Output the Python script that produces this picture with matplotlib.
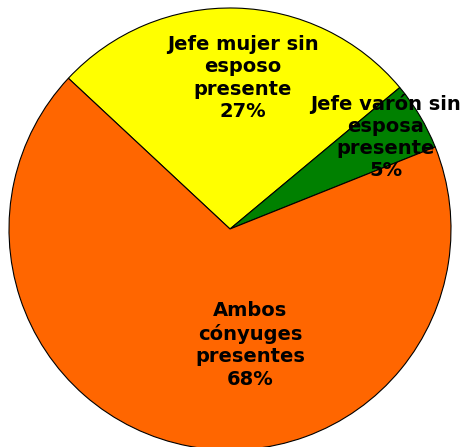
import matplotlib
matplotlib.use("Agg")
from matplotlib import pyplot as plt

# data
labels = ["Jefe mujer sin\nesposo\npresente", "Jefe varón sin\nesposa\npresente", "Ambos\ncónyuges\npresentes"]
shares = [27, 5, 68]
colors = ["#FFFF00", "#008000", "#FF6600"]

fig = plt.figure(figsize=(4.77, 4.47), dpi=100)
ax = fig.add_axes([0, 0, 1, 1])

# pie in pixel-like coords
cx, cy, r = 230, 447 - 229, 221
ax.pie(shares, colors=colors, startangle=137, counterclock=False,
       center=(cx, cy), radius=r, frame=True,
       wedgeprops=dict(edgecolor="black", linewidth=0.8))

# label positions (pixels, top-left origin)
label_pos = [(243, 78), (386, 137), (250, 345)]
for lab, s, (x, y) in zip(labels, shares, label_pos):
    ax.text(x, 447 - y, f"{lab}\n{s}%", ha="center", va="center",
            fontsize=14, fontweight="bold", family="DejaVu Sans",
            linespacing=1.22)

ax.set_xlim(0, 477)
ax.set_ylim(0, 447)
ax.set_aspect("equal")
ax.axis("off")

fig.savefig("out.png", dpi=100)
